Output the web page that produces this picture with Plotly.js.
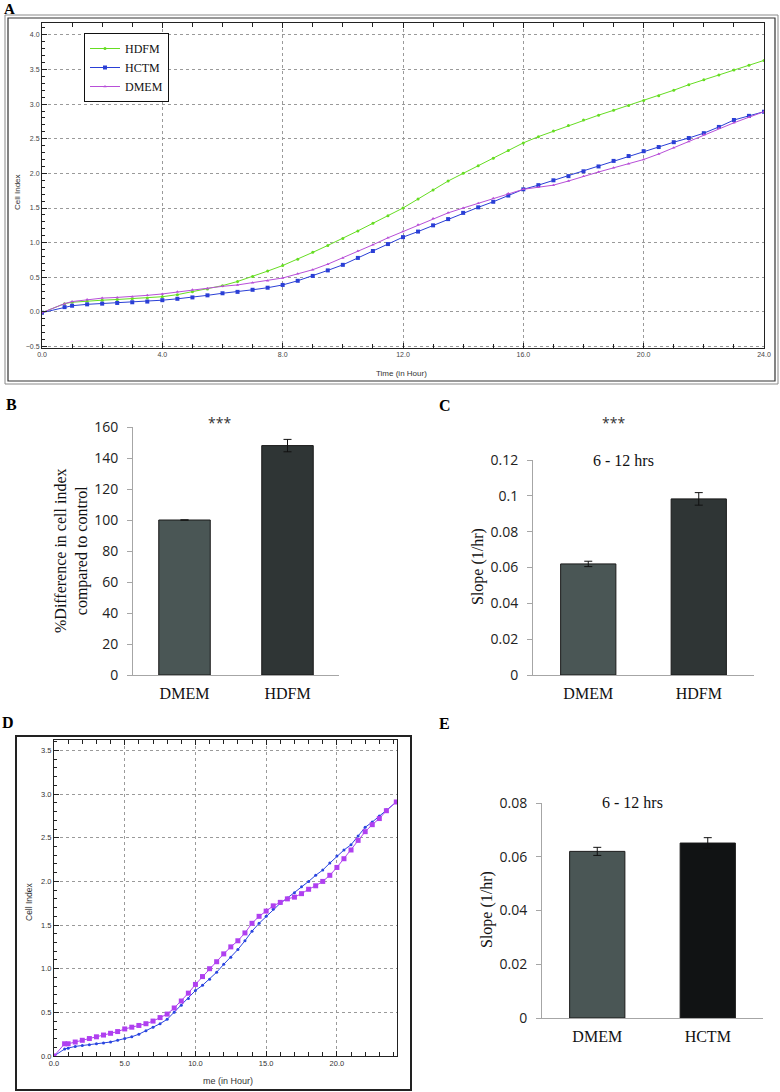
<!DOCTYPE html>
<html>
<head>
<meta charset="utf-8">
<script src="https://cdn.plot.ly/plotly-3.0.1.min.js"></script>
<style>html,body{margin:0;padding:0;background:#fff;}#chart{width:780px;height:1092px;}</style>
</head>
<body>
<div id="chart"></div>
<script>
// ---------- DATA ----------
// Panel A: cell index over time
const timeA = [0,0.75,1,1.5,2,2.5,3,3.5,4,4.5,5,5.5,6,6.5,7,7.5,8,8.5,9,9.5,10,10.5,11,11.5,12,12.5,13,13.5,14,14.5,15,15.5,16,16.5,17,17.5,18,18.5,19,19.5,20,20.5,21,21.5,22,22.5,23,23.5,24];
const hdfmA = [-0.01,0.12,0.14,0.16,0.17,0.18,0.19,0.20,0.22,0.25,0.29,0.33,0.38,0.44,0.51,0.59,0.67,0.76,0.86,0.96,1.06,1.17,1.28,1.39,1.50,1.63,1.76,1.89,2.00,2.11,2.22,2.33,2.44,2.53,2.61,2.69,2.77,2.84,2.91,2.98,3.05,3.12,3.20,3.28,3.35,3.42,3.49,3.56,3.63];
const hctmA = [-0.01,0.07,0.09,0.11,0.12,0.13,0.14,0.15,0.17,0.19,0.21,0.24,0.27,0.29,0.32,0.35,0.39,0.45,0.52,0.60,0.68,0.78,0.88,0.98,1.08,1.16,1.25,1.34,1.43,1.51,1.59,1.68,1.77,1.83,1.90,1.96,2.03,2.10,2.18,2.25,2.32,2.38,2.45,2.51,2.58,2.67,2.77,2.83,2.89];
const dmemA = [-0.01,0.12,0.15,0.18,0.20,0.21,0.22,0.24,0.26,0.29,0.32,0.34,0.37,0.39,0.42,0.45,0.49,0.55,0.61,0.69,0.78,0.88,0.97,1.07,1.16,1.26,1.35,1.43,1.50,1.57,1.64,1.71,1.77,1.80,1.83,1.89,1.96,2.02,2.08,2.14,2.20,2.28,2.37,2.46,2.56,2.65,2.73,2.81,2.89];

// Panel D: cell index over time (HCTM vs DMEM)
const timeD = [0,0.75,1,1.5,2,2.5,3,3.5,4,4.5,5,5.5,6,6.5,7,7.5,8,8.5,9,9.5,10,10.5,11,11.5,12,12.5,13,13.5,14,14.5,15,15.5,16,16.5,17,17.5,18,18.5,19,19.5,20,20.5,21,21.5,22,22.5,23,23.5,24.2];
const hctmD = [0.00,0.08,0.09,0.11,0.12,0.13,0.14,0.15,0.16,0.18,0.20,0.22,0.25,0.29,0.33,0.37,0.42,0.50,0.58,0.66,0.75,0.81,0.88,0.96,1.05,1.13,1.22,1.32,1.43,1.52,1.60,1.68,1.75,1.81,1.87,1.94,2.00,2.07,2.13,2.21,2.29,2.36,2.42,2.52,2.62,2.68,2.75,2.82,2.91];
const dmemD = [0.00,0.14,0.14,0.16,0.18,0.20,0.22,0.24,0.26,0.28,0.31,0.33,0.35,0.37,0.40,0.44,0.48,0.55,0.63,0.72,0.82,0.91,1.00,1.08,1.17,1.25,1.32,1.41,1.52,1.60,1.66,1.72,1.76,1.80,1.82,1.86,1.91,1.95,2.00,2.07,2.16,2.26,2.36,2.47,2.57,2.65,2.72,2.81,2.91];

// Panel B
const catsB = ['DMEM','HDFM'];
const valsB = [100, 148];
const errB  = [null, 4];
const tickB = [0,20,40,60,80,100,120,140,160];

// Panel C
const catsC = ['DMEM','HDFM'];
const valsC = [0.062, 0.0983];
const errC  = [0.0015, 0.0035];
const tickC = [0,0.02,0.04,0.06,0.08,0.1,0.12];
const tickTextC = ['0','0.02','0.04','0.06','0.08','0.1','0.12'];

// Panel E
const catsE = ['DMEM','HCTM'];
const valsE = [0.062, 0.0651];
const errE  = [0.0015, 0.002];
const tickE = [0,0.02,0.04,0.06,0.08];
const tickTextE = ['0','0.02','0.04','0.06','0.08'];

const barColorsB = ['#4a5655','#2f3535'];
const barColorsC = ['#4a5655','#2f3535'];
const barColorsE = ['#4a5655','#111314'];

// ---------- HELPERS ----------
const W = 780, H = 1092;
const PX = p => p / W;
const PY = p => 1 - p / H;

const SERIF = 'Liberation Serif, Times New Roman, serif';
const SANS = 'Open Sans, sans-serif';
const ARIAL = 'Liberation Sans, Arial, sans-serif';

function note(text, x, y, font, angle) {
  const a = {text: text, x: PX(x), y: PY(y), xref: 'paper', yref: 'paper', showarrow: false,
    xanchor: 'center', yanchor: 'middle', font: font};
  if (angle !== undefined) a.textangle = angle;
  return a;
}

// ---------- TRACES ----------
const traces = [
  {x: timeA, y: hdfmA, name: 'HDFM', type: 'scatter', mode: 'lines+markers', xaxis: 'x', yaxis: 'y',
   line: {color: '#66dd22', width: 1}, marker: {color: '#66dd22', size: 3, symbol: 'circle'}},
  {x: timeA, y: hctmA, name: 'HCTM', type: 'scatter', mode: 'lines+markers', xaxis: 'x', yaxis: 'y',
   line: {color: '#2a3fd6', width: 1}, marker: {color: '#2a3fd6', size: 4, symbol: 'square'}},
  {x: timeA, y: dmemA, name: 'DMEM', type: 'scatter', mode: 'lines+markers', xaxis: 'x', yaxis: 'y',
   line: {color: '#b84fd8', width: 1}, marker: {color: '#b84fd8', size: 3, symbol: 'triangle-up'}},

  {x: catsB, y: valsB, type: 'bar', xaxis: 'x2', yaxis: 'y2', width: 0.5, showlegend: false,
   marker: {color: barColorsB, line: {color: '#1a1a1a', width: 1}},
   error_y: {type: 'data', array: errB, visible: true, color: '#111', thickness: 1, width: 4}},

  {x: catsC, y: valsC, type: 'bar', xaxis: 'x3', yaxis: 'y3', width: 0.5, showlegend: false,
   marker: {color: barColorsC, line: {color: '#1a1a1a', width: 1}},
   error_y: {type: 'data', array: errC, visible: true, color: '#111', thickness: 1, width: 4}},

  {x: timeD, y: hctmD, name: 'HCTM', type: 'scatter', mode: 'lines+markers', xaxis: 'x4', yaxis: 'y4', showlegend: false,
   line: {color: '#2a45e0', width: 1}, marker: {color: '#2a45e0', size: 3, symbol: 'circle'}},
  {x: timeD, y: dmemD, name: 'DMEM', type: 'scatter', mode: 'lines+markers', xaxis: 'x4', yaxis: 'y4', showlegend: false,
   line: {color: '#b040f0', width: 1}, marker: {color: '#b040f0', size: 5, symbol: 'square'}},

  {x: catsE, y: valsE, type: 'bar', xaxis: 'x5', yaxis: 'y5', width: 0.5, showlegend: false,
   marker: {color: barColorsE, line: {color: '#1a1a1a', width: 1}},
   error_y: {type: 'data', array: errE, visible: true, color: '#111', thickness: 1, width: 4}}
];

// ---------- AXES ----------
const lineAxisCommon = {
  showline: true, linecolor: '#222', linewidth: 1, zeroline: false,
  showgrid: true, gridcolor: '#9a9a9a', griddash: 'dot', gridwidth: 1,
  ticks: 'inside', ticklen: 5, tickcolor: '#222',
  tickfont: {family: ARIAL, size: 7, color: '#444'}, tickformat: '.1f'
};
const barX = {type: 'category', showline: true, linecolor: '#a6a6a6', linewidth: 1, ticks: '',
  showgrid: false, zeroline: false, tickfont: {family: SERIF, size: 16, color: '#111'}, ticklabelstandoff: 4};
const barY = {showline: true, linecolor: '#a6a6a6', linewidth: 1, ticks: 'outside', ticklen: 5, tickcolor: '#a6a6a6',
  showgrid: false, zeroline: false, tickfont: {family: SANS, size: 14, color: '#222'}, ticklabelstandoff: 6};

const layout = {
  width: W, height: H,
  margin: {l: 0, r: 0, t: 0, b: 0},
  paper_bgcolor: '#fff', plot_bgcolor: '#fff',
  showlegend: true,
  legend: {x: PX(84), y: PY(33), xanchor: 'left', yanchor: 'top',
    bordercolor: '#111', borderwidth: 1, bgcolor: '#fff',
    font: {family: SERIF, size: 12, color: '#111'}, itemwidth: 30, tracegroupgap: 0},

  xaxis: Object.assign({}, lineAxisCommon, {domain: [PX(42), PX(764)], range: [0, 24], tick0: 0, dtick: 4,
    anchor: 'y', mirror: 'ticks', minor: {dtick: 1, ticks: 'inside', ticklen: 4, tickcolor: '#222', showgrid: false}}),
  yaxis: Object.assign({}, lineAxisCommon, {domain: [PY(348), PY(23)], range: [-0.52, 4.17], tick0: 0, dtick: 0.5,
    anchor: 'x', mirror: true, minor: {dtick: 0.1, ticks: 'inside', ticklen: 3, tickcolor: '#222', showgrid: false}}),

  xaxis2: Object.assign({}, barX, {domain: [PX(133), PX(339)], anchor: 'y2', range: [-0.5, 1.5]}),
  yaxis2: Object.assign({}, barY, {domain: [PY(675), PY(427)], anchor: 'x2', range: [0, 160], tickvals: tickB}),

  xaxis3: Object.assign({}, barX, {domain: [PX(533), PX(754)], anchor: 'y3', range: [-0.5, 1.5]}),
  yaxis3: Object.assign({}, barY, {domain: [PY(675), PY(460)], anchor: 'x3', range: [0, 0.12], tickvals: tickC, ticktext: tickTextC}),

  xaxis4: Object.assign({}, lineAxisCommon, {domain: [PX(54), PX(397)], range: [0, 24.25], tick0: 0, dtick: 5,
    anchor: 'y4', mirror: 'ticks', tickfont: {family: ARIAL, size: 7.5, color: '#333'},
    minor: {dtick: 1, ticks: 'inside', ticklen: 4, tickcolor: '#222', showgrid: false}}),
  yaxis4: Object.assign({}, lineAxisCommon, {domain: [PY(1056), PY(740)], range: [0, 3.62], tick0: 0, dtick: 0.5,
    anchor: 'x4', mirror: true, tickfont: {family: ARIAL, size: 7.5, color: '#333'},
    minor: {dtick: 0.1, ticks: 'inside', ticklen: 3, tickcolor: '#222', showgrid: false}}),

  xaxis5: Object.assign({}, barX, {domain: [PX(542), PX(763)], anchor: 'y5', range: [-0.5, 1.5]}),
  yaxis5: Object.assign({}, barY, {domain: [PY(1018), PY(803)], anchor: 'x5', range: [0, 0.08], tickvals: tickE, ticktext: tickTextE}),

  shapes: [
    {type: 'rect', xref: 'paper', yref: 'paper', x0: PX(5), x1: PX(778), y0: PY(384), y1: PY(15), line: {color: '#8a8a8a', width: 1}},
    {type: 'rect', xref: 'paper', yref: 'paper', x0: PX(8), x1: PX(775), y0: PY(381), y1: PY(18), line: {color: '#333', width: 1.2}},
    {type: 'rect', xref: 'paper', yref: 'paper', x0: PX(16), x1: PX(411), y0: PY(1090), y1: PY(736), line: {color: '#222', width: 2}}
  ],

  annotations: [
    note('<b>A</b>', 9, 9, {family: SERIF, size: 15, color: '#000'}),
    note('<b>B</b>', 11, 404, {family: SERIF, size: 16, color: '#000'}),
    note('<b>C</b>', 445, 405, {family: SERIF, size: 16, color: '#000'}),
    note('<b>D</b>', 8, 722, {family: SERIF, size: 16, color: '#000'}),
    note('<b>E</b>', 444, 723, {family: SERIF, size: 16, color: '#000'}),

    note('Cell Index', 17, 192, {family: ARIAL, size: 8, color: '#333'}, -90),
    note('Time (in Hour)', 402, 373, {family: ARIAL, size: 8, color: '#333'}),

    note('***', 219, 423, {family: SANS, size: 14, color: '#333'}),
    note('%Difference in cell index<br>compared to control', 71, 551, {family: SERIF, size: 16, color: '#111'}, -90),

    note('***', 613, 423, {family: SANS, size: 14, color: '#333'}),
    note('6 - 12 hrs', 623, 460, {family: SERIF, size: 16, color: '#111'}),
    note('Slope (1/hr)', 478, 567, {family: SERIF, size: 16, color: '#111'}, -90),

    note('Cell Index', 29, 902, {family: ARIAL, size: 8.5, color: '#333'}, -90),
    note('me (in Hour)', 228, 1081, {family: ARIAL, size: 9, color: '#333'}),

    note('6 - 12 hrs', 632, 802, {family: SERIF, size: 16, color: '#111'}),
    note('Slope (1/hr)', 487, 910, {family: SERIF, size: 16, color: '#111'}, -90)
  ]
};

Plotly.newPlot('chart', traces, layout, {staticPlot: true, displayModeBar: false});
</script>
</body>
</html>
